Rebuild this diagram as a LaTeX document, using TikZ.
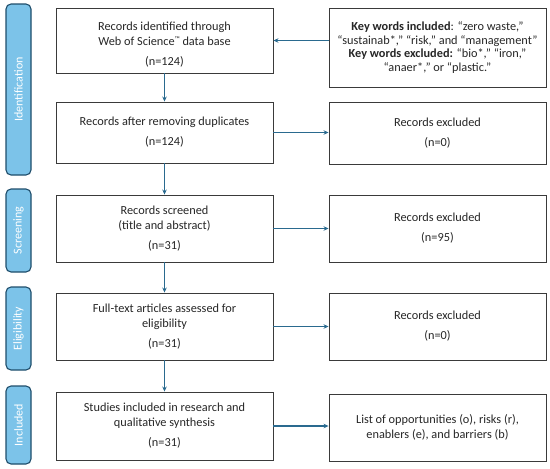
\documentclass[tikz,border=0pt]{standalone}
\usepackage{fontspec}
\setmainfont{Carlito}
\usetikzlibrary{arrows.meta}
\definecolor{barfill}{HTML}{7CC3E9}
\definecolor{bardraw}{HTML}{1E4D6B}
\definecolor{arrcol}{HTML}{2A6A8F}
\definecolor{boxdraw}{HTML}{3A3A3A}
\begin{document}
\begin{tikzpicture}[x=1pt,y=1pt,
  every node/.style={font=\fontsize{12.3}{15}\selectfont, text=black!85},
  lbox/.style={draw=boxdraw, line width=0.9pt, minimum width=217pt, align=center, inner sep=2pt},
  rbox/.style={draw=boxdraw, line width=0.9pt, minimum width=217pt, align=center, inner sep=2pt},
  bar/.style={draw=bardraw, fill=barfill, line width=1.1pt, rounded corners=5pt, minimum width=25pt},
  barlabel/.style={rotate=90, text=white, font=\fontsize{12}{13}\selectfont},
  arr/.style={draw=arrcol, line width=1.2pt, -{Stealth[length=5pt,width=4.5pt]}}
]
\useasboundingbox (0,0) rectangle (550,-469);
% phase bars
\node[bar, minimum height=171pt] (B1) at (18.5,-89.5) {};
\node[barlabel] (T1) at (B1) {Identification};
\node[bar, minimum height=83pt] (B2) at (18.5,-230.5) {};
\node[barlabel] (T2) at (B2) {Screening};
\node[bar, minimum height=83pt] (B3) at (18.5,-328.5) {};
\node[barlabel] (T3) at (B3) {Eligibility};
\node[bar, minimum height=78pt] (B4) at (18.5,-425) {};
\node[barlabel] (T4) at (B4) {Included};
% left boxes
\node[lbox, minimum height=65pt] (L1) at (164.5,-40.5) {\rule{0pt}{16pt}Records identified through\\Web of Science\raisebox{3.5pt}{\fontsize{7}{7}\selectfont ™} data base\\[5pt](n=124)};
\node[lbox, minimum height=61pt] (L2) at (164.5,-132.5) {Records after removing duplicates\\[5pt](n=124)};
\node[lbox, minimum height=67pt] (L3) at (164.5,-228.5) {Records screened\\(title and abstract)\\[5pt](n=31)};
\node[lbox, minimum height=67pt] (L4) at (164.5,-326.5) {Full-text articles assessed for\\eligibility\\[5pt](n=31)};
\node[lbox, minimum height=68pt] (L5) at (164.5,-426) {Studies included in research and\\qualitative synthesis\\[5pt](n=31)};
% right boxes
\node[rbox, minimum height=79pt, font=\fontsize{12.3}{13.4}\selectfont] (R1) at (437.5,-47.5) {\textbf{Key words included}: “zero waste,”\\“sustainab*,” “risk,” and “management”\\\textbf{Key words excluded:} “bio*,” “iron,”\\“anaer*,” or “plastic.”};
\node[rbox, minimum height=62pt] (R2) at (437.5,-133) {Records excluded\\[5pt](n=0)};
\node[rbox, minimum height=67pt] (R3) at (437.5,-228.5) {Records excluded\\[5pt](n=95)};
\node[rbox, minimum height=67pt] (R4) at (437.5,-326.5) {Records excluded\\[5pt](n=0)};
\node[rbox, minimum height=67pt] (R5) at (437.5,-427.5) {List of opportunities (o), risks (r),\\enablers (e), and barriers (b)};
% vertical arrows
\draw[arr] (L1.south) -- (L2.north);
\draw[arr] (L2.south) -- (L3.north);
\draw[arr] (L3.south) -- (L4.north);
\draw[arr] (L4.south) -- (L5.north);
% horizontal arrows
\draw[arr] (R1.west |- L1.east) -- (L1.east);
\draw[arr] (L2.east) -- (R2.west |- L2.east);
\draw[arr] (L3.east) -- (R3.west |- L3.east);
\draw[arr] (L4.east) -- (R4.west |- L4.east);
\draw[arr] (L5.east) -- (R5.west |- L5.east);
\end{tikzpicture}
\end{document}
